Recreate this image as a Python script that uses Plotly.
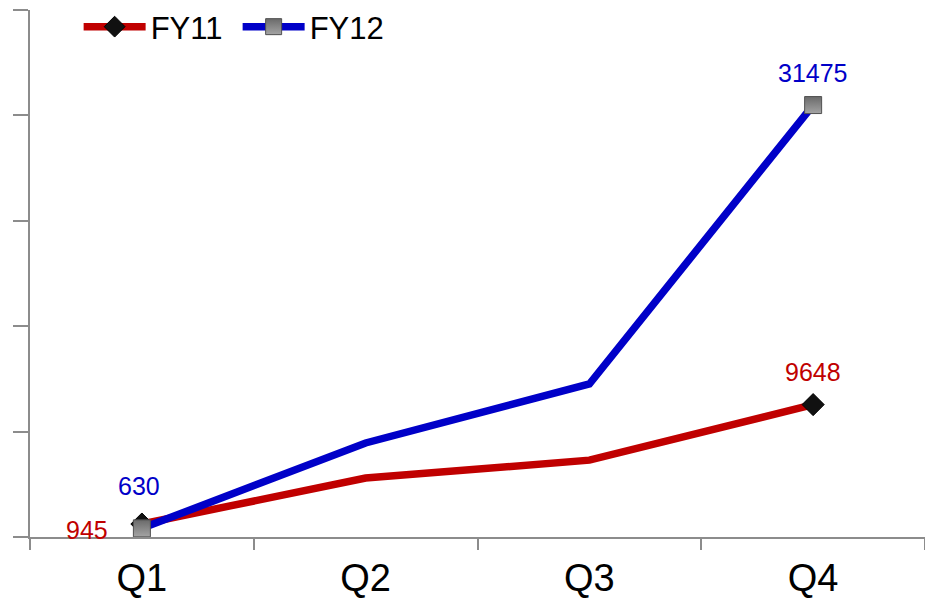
import plotly.graph_objects as go

# Quarterly figures for two fiscal years
quarters = ["Q1", "Q2", "Q3", "Q4"]
fy11 = [945, 4300, 5600, 9648]
fy12 = [630, 6850, 11150, 31475]

# Quarters that get a marker and a value label
fy11_labelled = ["Q1", "Q4"]
fy12_labelled = ["Q1", "Q4"]

y_max = 38400
y_step = 7680

RED = "#c00000"
BLUE = "#0000c8"
AXIS = "#8c8c8c"
CLEAR = "rgba(0,0,0,0)"


def per_point(quarter_list, shown, value):
    """Value at the marked quarters, transparent elsewhere."""
    return [value if q in shown else CLEAR for q in quarter_list]


fig = go.Figure()

fig.add_trace(go.Scatter(
    x=quarters, y=fy11, name="FY11",
    mode="lines+markers",
    line=dict(color=RED, width=7.5),
    marker=dict(symbol="diamond", size=17, opacity=1,
                color=per_point(quarters, fy11_labelled, "#111111"),
                line=dict(color=per_point(quarters, fy11_labelled, "#000000"), width=1)),
    cliponaxis=False,
))

fig.add_trace(go.Scatter(
    x=quarters, y=fy12, name="FY12",
    mode="lines+markers",
    line=dict(color=BLUE, width=7.5),
    marker=dict(symbol="square", size=17, opacity=1,
                color=per_point(quarters, fy12_labelled, "#6a6a6a"),
                gradient=dict(type="vertical",
                              color=per_point(quarters, fy12_labelled, "#a4a4a4")),
                line=dict(color=per_point(quarters, fy12_labelled, "#505050"), width=1)),
    cliponaxis=False,
))

# Value labels beside the marked points
label_offsets = {
    ("FY11", "Q1"): (-55, -6),
    ("FY11", "Q4"): (0, 33),
    ("FY12", "Q1"): (-3, 42),
    ("FY12", "Q4"): (0, 32),
}
annotations = []
for name, values, shown, color in (("FY11", fy11, fy11_labelled, RED),
                                   ("FY12", fy12, fy12_labelled, BLUE)):
    for q, v in zip(quarters, values):
        if q not in shown:
            continue
        dx, dy = label_offsets[(name, q)]
        annotations.append(dict(
            x=q, y=v, xref="x", yref="y", text=f"{v}", showarrow=False,
            xshift=dx, yshift=dy, font=dict(size=25, color=color),
        ))

fig.update_layout(
    width=925, height=601,
    margin=dict(l=30, r=0, t=10, b=64, autoexpand=False),
    paper_bgcolor="white", plot_bgcolor="white",
    font=dict(family="Liberation Sans, Arial, sans-serif", color="#000000"),
    showlegend=True,
    annotations=annotations,
    legend=dict(
        orientation="h",
        xref="container", yref="container",
        x=0.085, y=1.0, xanchor="left", yanchor="top",
        font=dict(size=31, color="#000000"),
        itemwidth=62,
        entrywidth=82, entrywidthmode="pixels",
        bgcolor="rgba(0,0,0,0)",
    ),
    xaxis=dict(
        type="category",
        range=[-0.5, len(quarters) - 0.5],
        showgrid=False, zeroline=False,
        showline=True, linecolor=AXIS, linewidth=2,
        ticks="outside", tickson="boundaries", ticklen=11,
        tickcolor=AXIS, tickwidth=2,
        tickfont=dict(size=38, color="#000000"),
        ticklabelstandoff=6,
    ),
    yaxis=dict(
        range=[0, y_max + 1],
        tick0=0, dtick=y_step,
        showgrid=False, zeroline=False,
        showline=True, linecolor=AXIS, linewidth=2,
        ticks="outside", ticklen=15, tickcolor=AXIS, tickwidth=2,
        showticklabels=False,
    ),
)

fig.write_html("out.html")
